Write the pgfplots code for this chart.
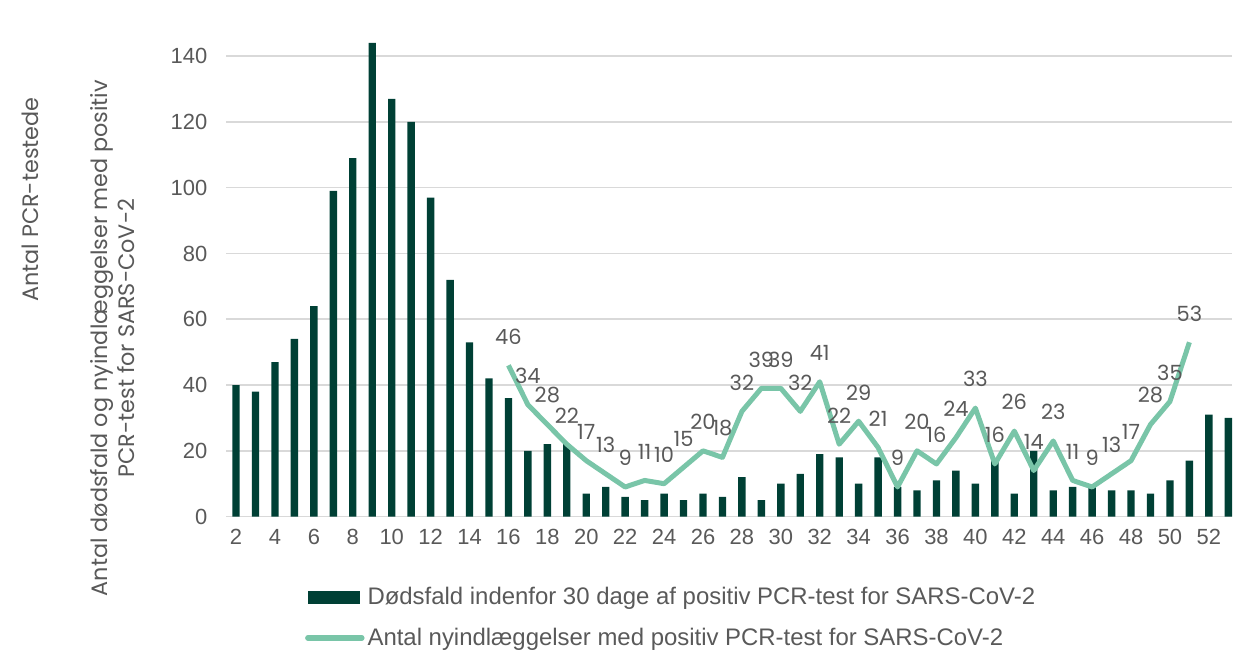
\documentclass[border=0pt]{standalone}
\usepackage{fontspec}
\setmainfont{Liberation Sans}
\newfontfamily\pop{Poppins}
\usepackage{pgfplots}
\pgfplotsset{compat=1.18}
\definecolor{bargreen}{HTML}{004035}
\definecolor{linegreen}{HTML}{79C5A8}
\definecolor{txtgray}{HTML}{595959}
\definecolor{gridgray}{HTML}{D9D9D9}
\begin{document}
\begin{tikzpicture}
\begin{axis}[
    scale only axis, width=504.5pt, height=259pt,
    xmin=1.5, xmax=53.2, ymin=0, ymax=157,
    xtick={2,4,...,52}, ytick={0,20,...,140},
    ymajorgrids, grid style={gridgray, line width=0.8pt},
    axis line style={draw=none}, major tick length=0pt,
    /pgf/number format/assume math mode=true,
    tick label style={font=\fontsize{11}{13}\selectfont, text=txtgray},
    xticklabel style={yshift=-3pt},
    yticklabel style={xshift=-6pt},
    legend style={draw=none, fill=none, at={(0.072,-0.121)}, anchor=north west,
        font=\fontsize{12}{14}\selectfont, text=txtgray, row sep=6pt,
        nodes={inner xsep=1.5pt}, legend cell align=left},
    clip=false,
]
\addplot[ybar, bar width=3.7pt, fill=bargreen, draw=none,
    legend image code/.code={\fill[bargreen] (0pt,-3.2pt) rectangle (26pt,3.2pt);}]
coordinates {
(2,40) (3,38) (4,47) (5,54) (6,64) (7,99) (8,109) (9,144) (10,127) (11,120)
(12,97) (13,72) (14,53) (15,42) (16,36) (17,20) (18,22) (19,22) (20,7) (21,9)
(22,6) (23,5) (24,7) (25,5) (26,7) (27,6) (28,12) (29,5) (30,10) (31,13)
(32,19) (33,18) (34,10) (35,18) (36,9) (37,8) (38,11) (39,14) (40,10) (41,17)
(42,7) (43,20) (44,8) (45,9) (46,9) (47,8) (48,8) (49,7) (50,11) (51,17)
(52,31) (53,30)
};
\addlegendentry{Dødsfald indenfor 30 dage af positiv PCR-test for SARS-CoV-2}
\addplot[linegreen, line width=2.5pt, mark=none, line join=round,
    nodes near coords,
    nodes near coords style={font=\pop\fontsize{10.5}{12}\selectfont, text=txtgray, anchor=south, yshift=6pt},
    legend image code/.code={\draw[linegreen, line width=2.8pt, line cap=round] (0pt,0pt) -- (27pt,0pt);}]
coordinates {
(16,46) (17,34) (18,28) (19,22) (20,17) (21,13) (22,9) (23,11) (24,10) (25,15)
(26,20) (27,18) (28,32) (29,39) (30,39) (31,32) (32,41) (33,22) (34,29) (35,21)
(36,9) (37,20) (38,16) (39,24) (40,33) (41,16) (42,26) (43,14) (44,23) (45,11)
(46,9) (47,13) (48,17) (49,28) (50,35) (51,53)
};
\addlegendentry{Antal nyindlæggelser med positiv PCR-test for SARS-CoV-2}
\node[rotate=90, align=center, text=txtgray, font=\pop\fontsize{11.2}{13.5}\selectfont]
    at (rel axis cs:-0.113,0.3456) {Antal dødsfald og nyindlæggelser med positiv\\PCR-test for SARS-CoV-2};
\node[rotate=90, text=txtgray, font=\pop\fontsize{11.2}{13.5}\selectfont]
    at (rel axis cs:-0.195,0.614) {Antal PCR-testede};
\path (rel axis cs:-0.225,-0.2625) (rel axis cs:1,1);
\end{axis}
\end{tikzpicture}
\end{document}
